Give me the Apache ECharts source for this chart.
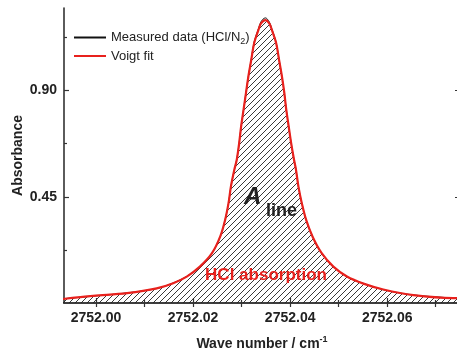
<!DOCTYPE html>
<html><head><meta charset="utf-8">
<script src="https://cdn.jsdelivr.net/npm/echarts@6/dist/echarts.min.js"></script>
<style>html,body{margin:0;padding:0;background:#fff}#c{width:457px;height:353px}</style>
</head><body><div id="c"></div>
<script>
// ---- data ----
const waveNumbers = [2751.9932, 2751.9994, 2752.0064, 2752.0125, 2752.0159, 2752.0187, 2752.0214, 2752.0239, 2752.0256, 2752.0266, 2752.0273, 2752.0278, 2752.0285, 2752.0290, 2752.0295, 2752.0299, 2752.0304, 2752.0309, 2752.0314, 2752.0320, 2752.0326, 2752.0335, 2752.0340, 2752.0349, 2752.0357, 2752.0362, 2752.0371, 2752.0377, 2752.0383, 2752.0388, 2752.0392, 2752.0397, 2752.0402, 2752.0408, 2752.0412, 2752.0417, 2752.0424, 2752.0433, 2752.0446, 2752.0465, 2752.0489, 2752.0517, 2752.0551, 2752.0592, 2752.0654, 2752.0736, 2752.0751];
const voigtFit =    [0.017, 0.030, 0.042, 0.062, 0.084, 0.112, 0.154, 0.211, 0.282, 0.352, 0.423, 0.494, 0.565, 0.607, 0.678, 0.748, 0.819, 0.890, 0.961, 1.032, 1.103, 1.159, 1.185, 1.199, 1.185, 1.159, 1.103, 1.032, 0.961, 0.890, 0.819, 0.748, 0.678, 0.607, 0.565, 0.494, 0.423, 0.352, 0.282, 0.211, 0.154, 0.112, 0.082, 0.057, 0.033, 0.021, 0.021];
const measuredData = [0.018, 0.029, 0.043, 0.061, 0.085, 0.113, 0.153, 0.212, 0.281, 0.353, 0.422, 0.495, 0.564, 0.608, 0.679, 0.749, 0.820, 0.892, 0.962, 1.035, 1.108, 1.164, 1.192, 1.208, 1.191, 1.163, 1.106, 1.034, 0.960, 0.889, 0.820, 0.747, 0.679, 0.606, 0.566, 0.493, 0.424, 0.351, 0.283, 0.210, 0.155, 0.111, 0.083, 0.056, 0.034, 0.021, 0.020];
const xLabelTicks = [2752.00, 2752.02, 2752.04, 2752.06];
const xMinorTicks = [2752.01, 2752.03, 2752.05, 2752.07];
const xTopTicks = [2752.00, 2752.01, 2752.02, 2752.03, 2752.04, 2752.05, 2752.06, 2752.07];
const yLabelTicks = [0.45, 0.90];
const yMajorTicks = [0.45, 0.90];
const yMinorTicks = [0.225, 0.675, 1.125];
const xMin = 2751.9934, xMax = 2752.0750, yMin = 0, yMax = 1.25;

// hatch pattern
const pat = document.createElement('canvas');
pat.width = 6; pat.height = 6;
const g = pat.getContext('2d');
g.strokeStyle = '#222'; g.lineWidth = 0.9;
g.beginPath();
g.moveTo(-1, 7); g.lineTo(7, -1);
g.moveTo(-4, 4); g.lineTo(4, -4);
g.moveTo(2, 10); g.lineTo(10, 2);
g.stroke();

const FONT = '"Liberation Sans", Arial, sans-serif';
const AX = '#333';
const chart = echarts.init(document.getElementById('c'), null, {renderer: 'canvas'});
const pairs = (ys) => waveNumbers.map((x, i) => [x, ys[i]]);
const baseX = {type: 'value', min: xMin, max: xMax, splitLine: {show: false}};
const baseY = {type: 'value', min: yMin, max: yMax, splitLine: {show: false}};

chart.setOption({
  animation: false,
  backgroundColor: '#fff',
  grid: {left: 64, top: 8, right: -3, bottom: 50, containLabel: false, outerBoundsMode: 'none'},
  legend: {
    orient: 'vertical', left: 68, top: 26, itemWidth: 32, itemHeight: 14, itemGap: 3,
    itemStyle: {opacity: 0},
    textStyle: {fontFamily: FONT, fontSize: 13, color: '#222',
      rich: {a: {fontFamily: FONT, fontSize: 13, color: '#222'},
             s: {fontFamily: FONT, fontSize: 9, color: '#222', verticalAlign: 'bottom', lineHeight: 18}}},
    formatter: (n) => n === 'Measured data (HCl/N2)' ? '{a|Measured data (HCl/N}{s|2}{a|)}' : '{a|' + n + '}',
    data: ['Measured data (HCl/N2)', 'Voigt fit']
  },
  xAxis: [
    Object.assign({}, baseX, {
      position: 'bottom',
      name: '{a|Wave number / cm}{s|-1}', nameLocation: 'middle', nameGap: 32, nameMoveOverlap: false,
      nameTextStyle: {rich: {a: {fontFamily: FONT, fontSize: 14, fontWeight: 'bold', color: '#222', lineHeight: 18},
                             s: {fontFamily: FONT, fontSize: 9, fontWeight: 'bold', color: '#222', verticalAlign: 'top', lineHeight: 18}}},
      axisLine: {show: true, lineStyle: {color: AX, width: 1.6}},
      axisTick: {show: true, inside: true, length: 5, customValues: xLabelTicks, lineStyle: {color: AX, width: 1.2}},
      axisLabel: {show: true, customValues: xLabelTicks, margin: 8, fontFamily: FONT, fontSize: 14, fontWeight: 'bold', color: '#222',
                  formatter: (v) => v.toFixed(2)}
    }),
    Object.assign({}, baseX, {
      position: 'bottom',
      axisLine: {show: false},
      axisTick: {show: true, inside: true, length: 3, customValues: xMinorTicks, lineStyle: {color: AX, width: 1.2}},
      axisLabel: {show: false}
    }),
    Object.assign({}, baseX, {
      position: 'top',
      axisLine: {show: true, lineStyle: {color: AX, width: 1.6}},
      axisTick: {show: true, inside: true, length: 4, customValues: xTopTicks, lineStyle: {color: AX, width: 1.2}},
      axisLabel: {show: false}
    })
  ],
  yAxis: [
    Object.assign({}, baseY, {
      position: 'left',
      name: 'Absorbance', nameLocation: 'middle', nameGap: 39, nameMoveOverlap: false,
      nameTextStyle: {fontFamily: FONT, fontSize: 14, fontWeight: 'bold', color: '#222'},
      axisLine: {show: true, lineStyle: {color: AX, width: 1.6}},
      axisTick: {show: true, inside: true, length: 5, customValues: yMajorTicks, lineStyle: {color: AX, width: 1.2}},
      axisLabel: {show: true, customValues: yLabelTicks, margin: 7, fontFamily: FONT, fontSize: 14, fontWeight: 'bold', color: '#222',
                  formatter: (v) => v.toFixed(2)}
    }),
    Object.assign({}, baseY, {
      position: 'left',
      axisLine: {show: false},
      axisTick: {show: true, inside: true, length: 3, customValues: yMinorTicks, lineStyle: {color: AX, width: 1.2}},
      axisLabel: {show: false}
    }),
    Object.assign({}, baseY, {
      position: 'right',
      axisLine: {show: true, lineStyle: {color: AX, width: 1.6}},
      axisTick: {show: true, inside: true, length: 5, customValues: yMajorTicks, lineStyle: {color: AX, width: 1.2}},
      axisLabel: {show: false}
    })
  ],
  series: [
    {
      name: 'Measured data (HCl/N2)', type: 'line', xAxisIndex: 0, yAxisIndex: 0,
      data: pairs(measuredData), symbol: 'none', smooth: 0.35,
      lineStyle: {color: '#111', width: 1}, itemStyle: {color: '#111'},
      areaStyle: {color: {image: pat, repeat: 'repeat'}, opacity: 1, origin: 'start'},
      z: 2
    },
    {
      name: 'Voigt fit', type: 'line', xAxisIndex: 0, yAxisIndex: 0,
      data: pairs(voigtFit), symbol: 'none', smooth: 0.35,
      lineStyle: {color: '#e8211d', width: 2.2}, itemStyle: {color: '#e8211d'},
      z: 3
    }
  ],
  graphic: [
    {type: 'text', z: 10, style: {x: 244, y: 197, text: 'A', fontFamily: FONT, fontSize: 24, fontWeight: 'bold', fontStyle: 'italic',
      fill: '#222', verticalAlign: 'middle', align: 'left'}},
    {type: 'text', z: 10, style: {x: 266, y: 211, text: 'line', fontFamily: FONT, fontSize: 18, fontWeight: 'bold',
      fill: '#222', verticalAlign: 'middle', align: 'left'}},
    {type: 'text', z: 10, style: {x: 266, y: 275, text: 'HCl absorption', fontFamily: FONT, fontSize: 17, fontWeight: 'bold',
      fill: '#e8211d', verticalAlign: 'middle', align: 'center'}}
  ]
});
</script></body></html>
